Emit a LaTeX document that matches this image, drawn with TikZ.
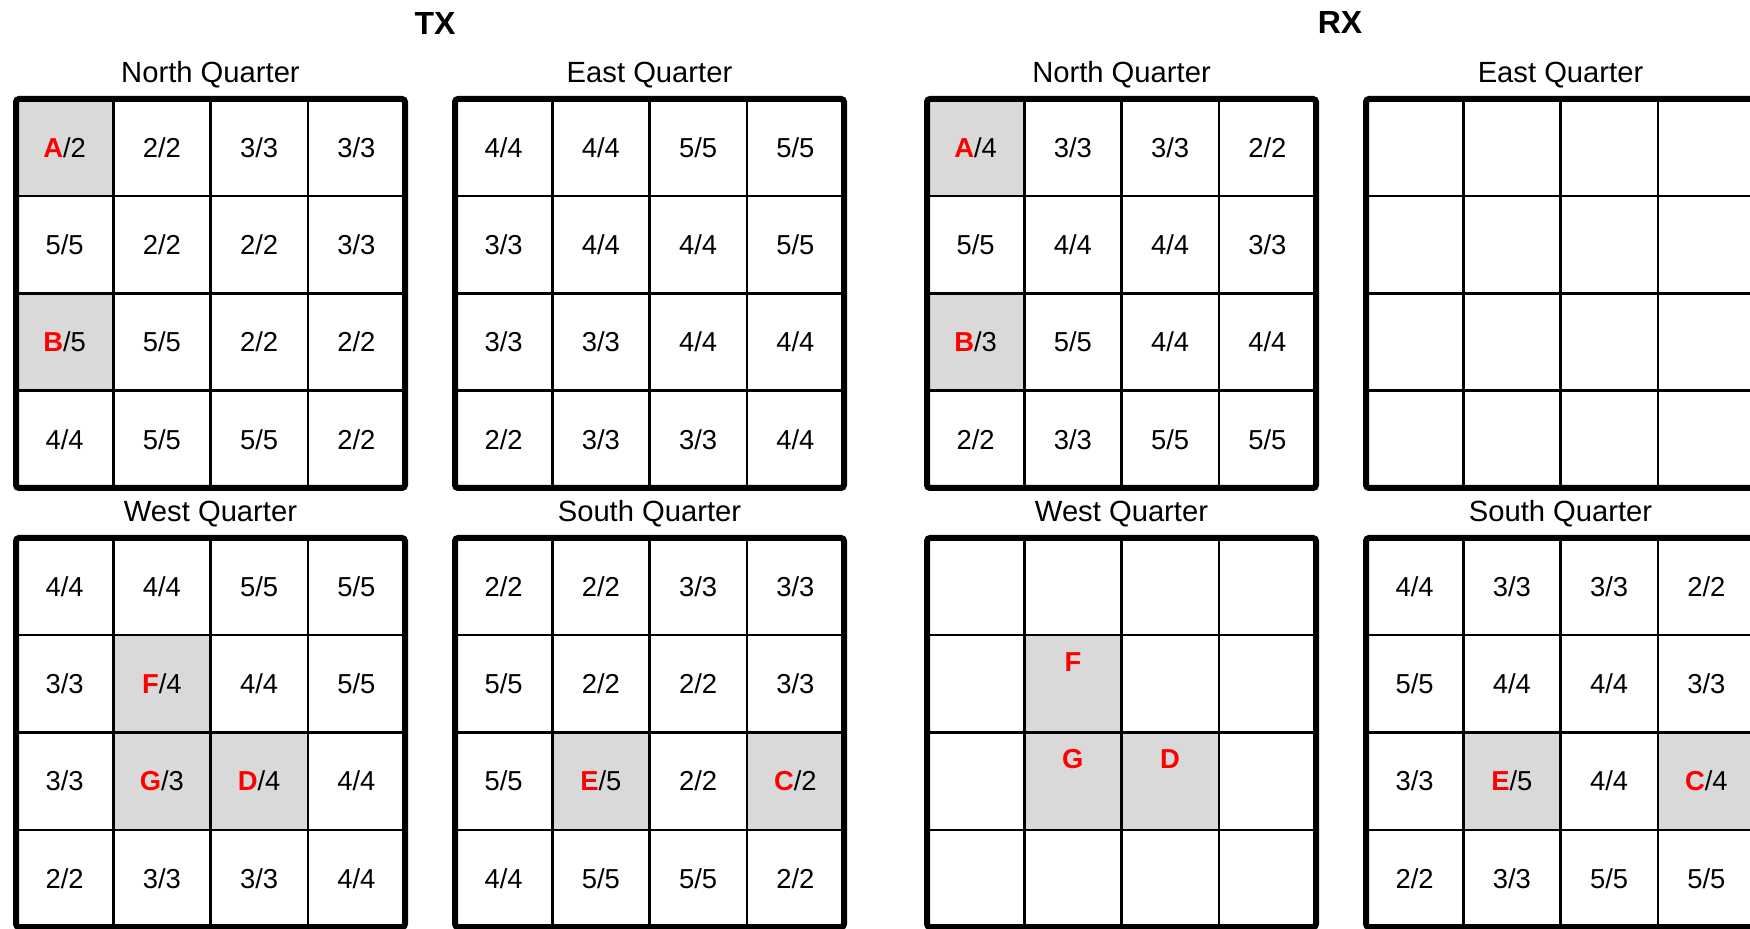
\documentclass[tikz,border=0pt]{standalone}
\usepackage{fontspec}
\setmainfont{Liberation Sans}
\usepackage{xcolor}
\definecolor{hitgray}{RGB}{217,217,217}
\definecolor{hitred}{RGB}{255,0,0}
\usepackage{tikz}
\usetikzlibrary{positioning}

\tikzset{
  cell/.style={draw=black, line width=1.25pt, minimum width=48.625pt, minimum height=48.625pt,
    inner sep=0pt, outer sep=0pt, anchor=north west, font=\fontsize{13.7}{16}\selectfont},
  frame/.style={draw=black, line width=3pt, rounded corners=1.5pt},
  qhead/.style={font=\fontsize{14.6}{17}\selectfont},
  side/.style={font=\fontsize{16}{19}\selectfont\bfseries},
  hitletter/.style={inner sep=0pt, outer sep=0pt, font=\fontsize{13.7}{16}\selectfont},
}
\newcommand{\hit}[1]{\textcolor{hitred}{\textbf{#1}}}
% #1 name, #2 left, #3 top, #4 heading, #5 grey cells, #6 texts row by row
\newcommand{\quarter}[6]{%
  \ifx\relax#5\relax\else
  \foreach \k in {#5} {
    \pgfmathsetmacro{\hx}{#2+mod(\k,4)*97.25}
    \pgfmathsetmacro{\hy}{#3+int(\k/4)*97.25}
    \fill[hitgray] (\hx,\hy) rectangle ++(97.25,97.25);
  }
  \fi
  \foreach \txt [count=\k from 0] in {#6} {
    \pgfmathsetmacro{\cx}{#2+mod(\k,4)*97.25}
    \pgfmathsetmacro{\cy}{#3+int(\k/4)*97.25}
    \node[cell] (#1-\k) at (\cx,\cy) {\txt};
  }
  \draw[frame] (#2,#3) rectangle ++(389,389);
  \node[qhead] (#1-head) at ({#2+194.5},{#3-24}) {#4};
}

\begin{document}
\begin{tikzpicture}[x=0.5pt, y=-0.5pt]
  \useasboundingbox (0,0) rectangle (1750,929);

  \node[side] (tx) at (435,24) {TX};
  \node[side] (rx) at (1340,23) {RX};

  % TX side
  \quarter{tn}{16}{99}{North Quarter}{0,8}{
    {\hit{A}/2},{2/2},{3/3},{3/3},
    {5/5},{2/2},{2/2},{3/3},
    {\hit{B}/5},{5/5},{2/2},{2/2},
    {4/4},{5/5},{5/5},{2/2}}
  \quarter{te}{455}{99}{East Quarter}{}{
    {4/4},{4/4},{5/5},{5/5},
    {3/3},{4/4},{4/4},{5/5},
    {3/3},{3/3},{4/4},{4/4},
    {2/2},{3/3},{3/3},{4/4}}
  \quarter{tw}{16}{538}{West Quarter}{5,9,10}{
    {4/4},{4/4},{5/5},{5/5},
    {3/3},{\hit{F}/4},{4/4},{5/5},
    {3/3},{\hit{G}/3},{\hit{D}/4},{4/4},
    {2/2},{3/3},{3/3},{4/4}}
  \quarter{ts}{455}{538}{South Quarter}{9,11}{
    {2/2},{2/2},{3/3},{3/3},
    {5/5},{2/2},{2/2},{3/3},
    {5/5},{\hit{E}/5},{2/2},{\hit{C}/2},
    {4/4},{5/5},{5/5},{2/2}}

  % RX side
  \quarter{rn}{927}{99}{North Quarter}{0,8}{
    {\hit{A}/4},{3/3},{3/3},{2/2},
    {5/5},{4/4},{4/4},{3/3},
    {\hit{B}/3},{5/5},{4/4},{4/4},
    {2/2},{3/3},{5/5},{5/5}}
  \quarter{re}{1366}{99}{East Quarter}{}{
    {},{},{},{},{},{},{},{},{},{},{},{},{},{},{},{}}
  \quarter{rw}{927}{538}{West Quarter}{5,9,10}{
    {},{},{},{},{},{},{},{},{},{},{},{},{},{},{},{}}
  \quarter{rs}{1366}{538}{South Quarter}{9,11}{
    {4/4},{3/3},{3/3},{2/2},
    {5/5},{4/4},{4/4},{3/3},
    {3/3},{\hit{E}/5},{4/4},{\hit{C}/4},
    {2/2},{3/3},{5/5},{5/5}}

  % lost blocks, letters only
  \foreach \n/\lt in {5/F,9/G,10/D}
    \node[hitletter, below=8.5pt of rw-\n.north] (rw-\lt) {\hit{\lt}};
\end{tikzpicture}
\end{document}
